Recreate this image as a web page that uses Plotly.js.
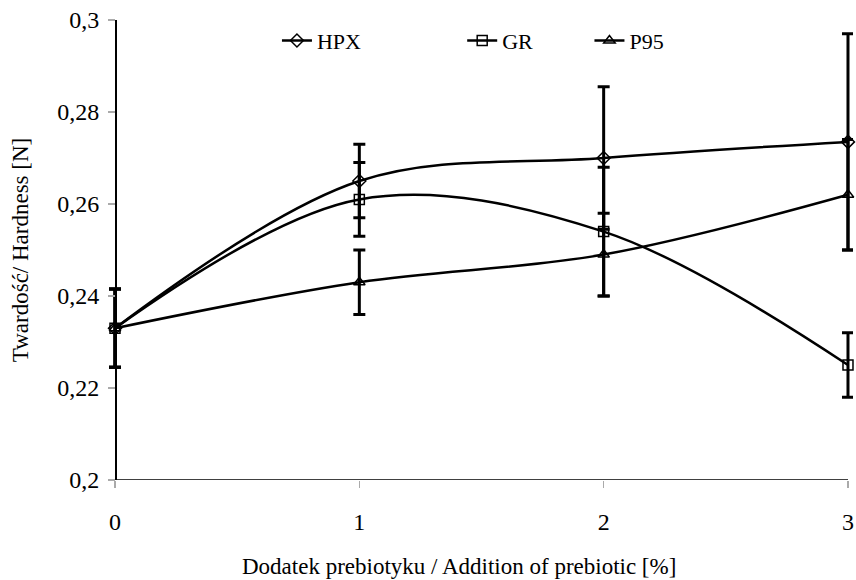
<!DOCTYPE html>
<html>
<head>
<meta charset="utf-8">
<script src="https://cdn.plot.ly/plotly-3.0.1.min.js"></script>
<style>
html,body{margin:0;padding:0;background:#fff;}#chart{width:856px;height:580px;}
</style>
</head>
<body>
<div id="chart"></div>
<script>
const xVals = [0, 1, 2, 3];
const xTickText = ["0", "1", "2", "3"];
const hpx = [0.233, 0.265, 0.270, 0.2735];
const hpxErr = [0.0085, 0.008, 0.0155, 0.0235];
const gr = [0.233, 0.261, 0.254, 0.225];
const grErr = [0.0085, 0.008, 0.014, 0.007];
const p95 = [0.233, 0.243, 0.249, 0.262];
const p95Err = [0.0085, 0.007, 0.009, 0.012];
const yTickVals = [0.2, 0.22, 0.24, 0.26, 0.28, 0.3];
const yTickText = ["0,2", "0,22", "0,24", "0,26", "0,28", "0,3"];
const xTitle = "Dodatek prebiotyku / Addition of prebiotic [%]";
const yTitle = "Twardość/ Hardness [N]";

const FONT = "Liberation Serif, Times New Roman, serif";

function series(name, y, err, symbol, legend) {
  return {
    x: xVals, y: y, name: name, type: "scatter", mode: "lines+markers",
    line: {color: "#000", width: 2.5, shape: "spline", smoothing: 1},
    marker: {symbol: symbol, size: 10, color: "#000", line: {color: "#000", width: 1.5}},
    error_y: {type: "data", array: err, visible: true, color: "#000", thickness: 3, width: 6},
    cliponaxis: false,
    legend: legend
  };
}

const data = [
  series("HPX", hpx, hpxErr, "diamond-open", "legend"),
  series("GR", gr, grErr, "square-open", "legend2"),
  series("P95", p95, p95Err, "triangle-up-open", "legend3")
];

const xRange = [-0.0614, 3.0205];
const yAxisPos = (0 - xRange[0]) / (xRange[1] - xRange[0]);

const legendBase = {orientation: "h", yanchor: "middle", xanchor: "left", y: 0.955, bgcolor: "rgba(0,0,0,0)",
  font: {family: FONT, size: 22, color: "#000"}, itemwidth: 30, tracegroupgap: 0};

const layout = {
  width: 856, height: 580,
  margin: {l: 100, r: 3, t: 20, b: 100},
  paper_bgcolor: "#fff", plot_bgcolor: "#fff",
  font: {family: FONT, size: 22, color: "#000"},
  xaxis: {
    range: xRange, tickvals: xVals, ticktext: xTickText,
    showline: false, showgrid: false, zeroline: false,
    ticks: "outside", ticklen: 7, tickcolor: "#aaa", tickwidth: 1.5,
    ticklabelstandoff: 13,
    tickfont: {family: FONT, size: 24, color: "#000"}
  },
  yaxis: {
    range: [0.2, 0.3], tickvals: yTickVals, ticktext: yTickText,
    anchor: "free", position: yAxisPos,
    showline: true, linecolor: "#000", linewidth: 1.5,
    showgrid: false, zeroline: false,
    ticks: "outside", ticklen: 7, tickcolor: "#aaa", tickwidth: 1.5,
    ticklabelstandoff: 4,
    tickfont: {family: FONT, size: 24, color: "#000"},
    title: {text: yTitle, font: {family: FONT, size: 23, color: "#000"}, standoff: 20}
  },
  annotations: [
    {text: xTitle, xref: "paper", yref: "paper", x: 0.477, y: -0.187, xanchor: "center", yanchor: "middle",
     showarrow: false, font: {family: FONT, size: 23, color: "#000"}}
  ],
  shapes: [
    {type: "line", xref: "x", yref: "y", x0: xVals[0], x1: xVals[xVals.length - 1], y0: 0.2, y1: 0.2,
     line: {color: "#000", width: 1.5}, layer: "above"}
  ],
  legend: Object.assign({}, legendBase, {x: 0.235}),
  legend2: Object.assign({}, legendBase, {x: 0.481}),
  legend3: Object.assign({}, legendBase, {x: 0.650}),
  showlegend: true
};

Plotly.newPlot("chart", data, layout, {displayModeBar: false, staticPlot: true});
</script>
</body>
</html>
